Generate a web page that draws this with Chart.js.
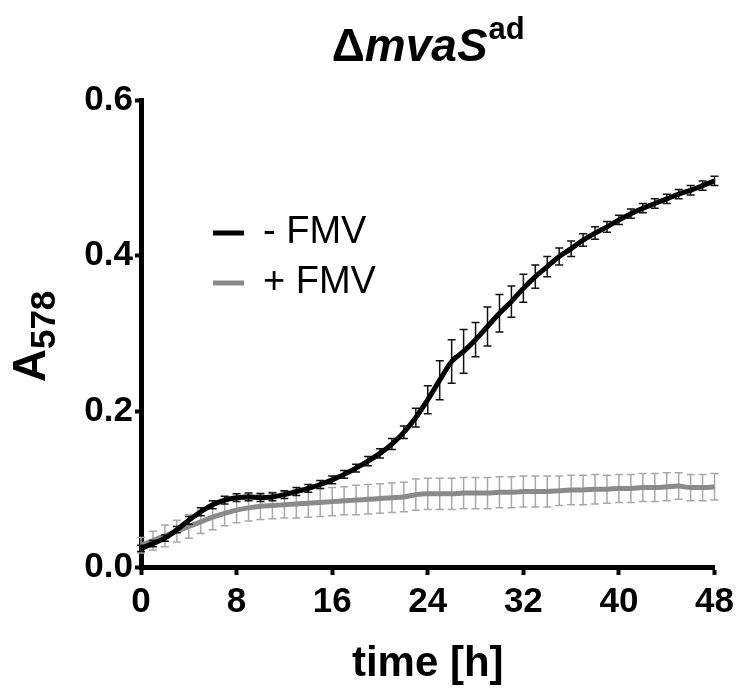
<!DOCTYPE html>
<html>
<head>
<meta charset="utf-8">
<script src="https://cdn.jsdelivr.net/npm/chart.js@4.4.1/dist/chart.umd.min.js"></script>
<style>
  body { margin: 0; background: #fff; }
  canvas { display: block; }
</style>
</head>
<body>
<canvas id="myChart" width="740" height="690"></canvas>
<script>
// dados //
const hours = [0,1,2,3,4,5,6,7,8,9,10,11,12,13,14,15,16,17,18,19,20,21,22,23,24,
  25,26,27,28,29,30,31,32,33,34,35,36,37,38,39,40,41,42,43,44,45,46,47,48];

const semFMV = [0.024,0.030,0.037,0.048,0.060,0.071,0.080,0.086,0.089,0.090,0.089,0.090,0.093,
  0.097,0.101,0.106,0.112,0.119,0.127,0.136,0.146,0.158,0.173,0.192,0.215,
  0.240,0.264,0.277,0.292,0.309,0.326,0.341,0.358,0.373,0.386,0.399,0.409,
  0.420,0.429,0.437,0.446,0.454,0.461,0.467,0.473,0.479,0.484,0.490,0.496];
const semFMVerro = [0.004,0.004,0.004,0.004,0.005,0.005,0.005,0.005,0.005,0.005,0.005,0.005,0.005,
  0.005,0.005,0.005,0.005,0.005,0.005,0.006,0.006,0.007,0.008,0.012,0.018,
  0.025,0.028,0.028,0.022,0.025,0.024,0.020,0.018,0.015,0.013,0.011,0.010,
  0.008,0.008,0.007,0.006,0.006,0.006,0.006,0.006,0.006,0.006,0.006,0.006];

const comFMV = [0.028,0.034,0.040,0.046,0.052,0.058,0.064,0.069,0.073,0.076,0.078,0.079,0.080,
  0.081,0.082,0.083,0.084,0.085,0.086,0.087,0.088,0.089,0.090,0.093,0.094,
  0.094,0.094,0.095,0.095,0.095,0.096,0.096,0.097,0.097,0.097,0.098,0.099,
  0.099,0.100,0.100,0.101,0.101,0.102,0.102,0.103,0.104,0.102,0.102,0.103];
const comFMVerro = [0.010,0.012,0.014,0.014,0.015,0.015,0.016,0.016,0.016,0.017,0.017,0.017,0.017,
  0.018,0.018,0.018,0.018,0.018,0.019,0.019,0.019,0.019,0.019,0.020,0.020,
  0.020,0.020,0.020,0.020,0.020,0.020,0.020,0.020,0.020,0.020,0.019,0.019,
  0.019,0.019,0.018,0.018,0.018,0.018,0.018,0.018,0.017,0.017,0.017,0.017];

const xTicks = [0, 8, 16, 24, 32, 40, 48];
const yTicks = ['0.0', '0.2', '0.4', '0.6'];

const fonte = 'Liberation Sans, Arial, sans-serif';

function pontos (vals) {
    return hours.map((h, i) => ({ x: h, y: vals[i] }));
}

// barras de erro //
const barrasErro = {
    id: 'barrasErro',
    beforeDatasetDraw (chart, args) {
        const ds = chart.data.datasets[args.index];
        const x = chart.scales.x, y = chart.scales.y;
        const ctx = chart.ctx;
        ctx.save();
        ctx.strokeStyle = ds.errColor;
        ctx.lineWidth = 1.5;
        ds.data.forEach((p, i) => {
            const px = x.getPixelForValue(p.x);
            const top = y.getPixelForValue(p.y + ds.err[i]);
            const bot = y.getPixelForValue(p.y - ds.err[i]);
            ctx.beginPath();
            ctx.moveTo(px, top); ctx.lineTo(px, bot);
            ctx.moveTo(px - 4, top); ctx.lineTo(px + 4, top);
            ctx.moveTo(px - 4, bot); ctx.lineTo(px + 4, bot);
            ctx.stroke();
        });
        ctx.restore();
    }
};

// titulo, eixo y e legenda //
const textos = {
    id: 'textos',
    afterDraw (chart) {
        const ctx = chart.ctx;
        const a = chart.chartArea;
        ctx.save();
        ctx.fillStyle = '#000';
        ctx.textBaseline = 'alphabetic';

        // titulo: Δ mvaS ^ad
        const f1 = 'bold 46px ' + fonte;
        const f2 = 'italic bold 46px ' + fonte;
        const f3 = 'bold 31px ' + fonte;
        ctx.font = f1; const w1 = ctx.measureText('Δ').width;
        ctx.font = f2; const w2 = ctx.measureText('mvaS').width;
        ctx.font = f3; const w3 = ctx.measureText('ad').width;
        let tx = (a.left + a.right) / 2 - (w1 + w2 + w3) / 2;
        const ty = 61;
        ctx.textAlign = 'left';
        ctx.font = f1; ctx.fillText('Δ', tx, ty); tx += w1;
        ctx.font = f2; ctx.fillText('mvaS', tx, ty); tx += w2 + 1;
        ctx.font = f3; ctx.fillText('ad', tx, ty - 22);

        // titulo do eixo y: A578
        ctx.save();
        ctx.translate(45, (a.top + a.bottom) / 2 + 3);
        ctx.rotate(-Math.PI / 2);
        const fa = 'bold 46px ' + fonte, fs = 'bold 35px ' + fonte;
        ctx.font = fa; const wa = ctx.measureText('A').width;
        ctx.font = fs; const ws = ctx.measureText('578').width;
        let sx = -(wa + ws) / 2;
        ctx.font = fa; ctx.fillText('A', sx, 0);
        ctx.font = fs; ctx.fillText('578', sx + wa, 10);
        ctx.restore();

        // legenda
        ctx.font = '38px ' + fonte;
        ctx.textBaseline = 'middle';
        chart.data.datasets.forEach((ds, i) => {
            const ly = a.top + 133 + i * 50;
            ctx.strokeStyle = ds.borderColor;
            ctx.lineWidth = 5;
            ctx.beginPath();
            ctx.moveTo(a.left + 72, ly);
            ctx.lineTo(a.left + 103, ly);
            ctx.stroke();
            ctx.fillText(ds.label, a.left + 122, ly);
        });
        ctx.restore();
    }
};

const ctx = document.getElementById('myChart');

new Chart(ctx, {
    type: 'line',
    data: {
        datasets: [{
            label: '- FMV',
            data: pontos(semFMV),
            err: semFMVerro,
            errColor: '#111',
            borderColor: '#000',
            borderWidth: 5,
            pointRadius: 0,
            cubicInterpolationMode: 'monotone'
        }, {
            label: '+ FMV',
            data: pontos(comFMV),
            err: comFMVerro,
            errColor: '#a8a8a8',
            borderColor: '#8a8a8a',
            borderWidth: 5,
            pointRadius: 0,
            cubicInterpolationMode: 'monotone'
        }]
    },
    options: {
        responsive: false,
        animation: false,
        layout: {
            padding: { top: 100, right: 22, left: 0, bottom: 0 }
        },
        plugins: {
            legend: { display: false },
            tooltip: { enabled: false }
        },
        scales: {
            x: {
                type: 'linear',
                min: 0,
                max: 48,
                afterBuildTicks: s => { s.ticks = xTicks.map(v => ({ value: v })); },
                afterFit: s => { s.height = 123; },
                ticks: {
                    color: '#000',
                    padding: 6,
                    font: { family: fonte, size: 35, weight: 'bold' },
                    callback: v => String(v)
                },
                grid: {
                    drawOnChartArea: false,
                    drawTicks: true,
                    tickLength: 8,
                    tickWidth: 4,
                    tickColor: '#000'
                },
                border: { display: true, color: '#000', width: 5 },
                title: {
                    display: true,
                    text: 'time [h]',
                    color: '#000',
                    padding: { top: 0, bottom: 0 },
                    font: { family: fonte, size: 42, weight: 'bold' }
                }
            },
            y: {
                min: 0,
                max: 0.6,
                afterBuildTicks: s => { s.ticks = yTicks.map(v => ({ value: parseFloat(v) })); },
                afterFit: s => { s.width = 141; },
                ticks: {
                    color: '#000',
                    padding: 2,
                    font: { family: fonte, size: 35, weight: 'bold' },
                    callback: (v, i) => yTicks[i]
                },
                grid: {
                    drawOnChartArea: false,
                    drawTicks: true,
                    tickLength: 6,
                    tickWidth: 4,
                    tickColor: '#000'
                },
                border: { display: true, color: '#000', width: 5 }
            }
        }
    },
    plugins: [barrasErro, textos]
});
</script>
</body>
</html>
